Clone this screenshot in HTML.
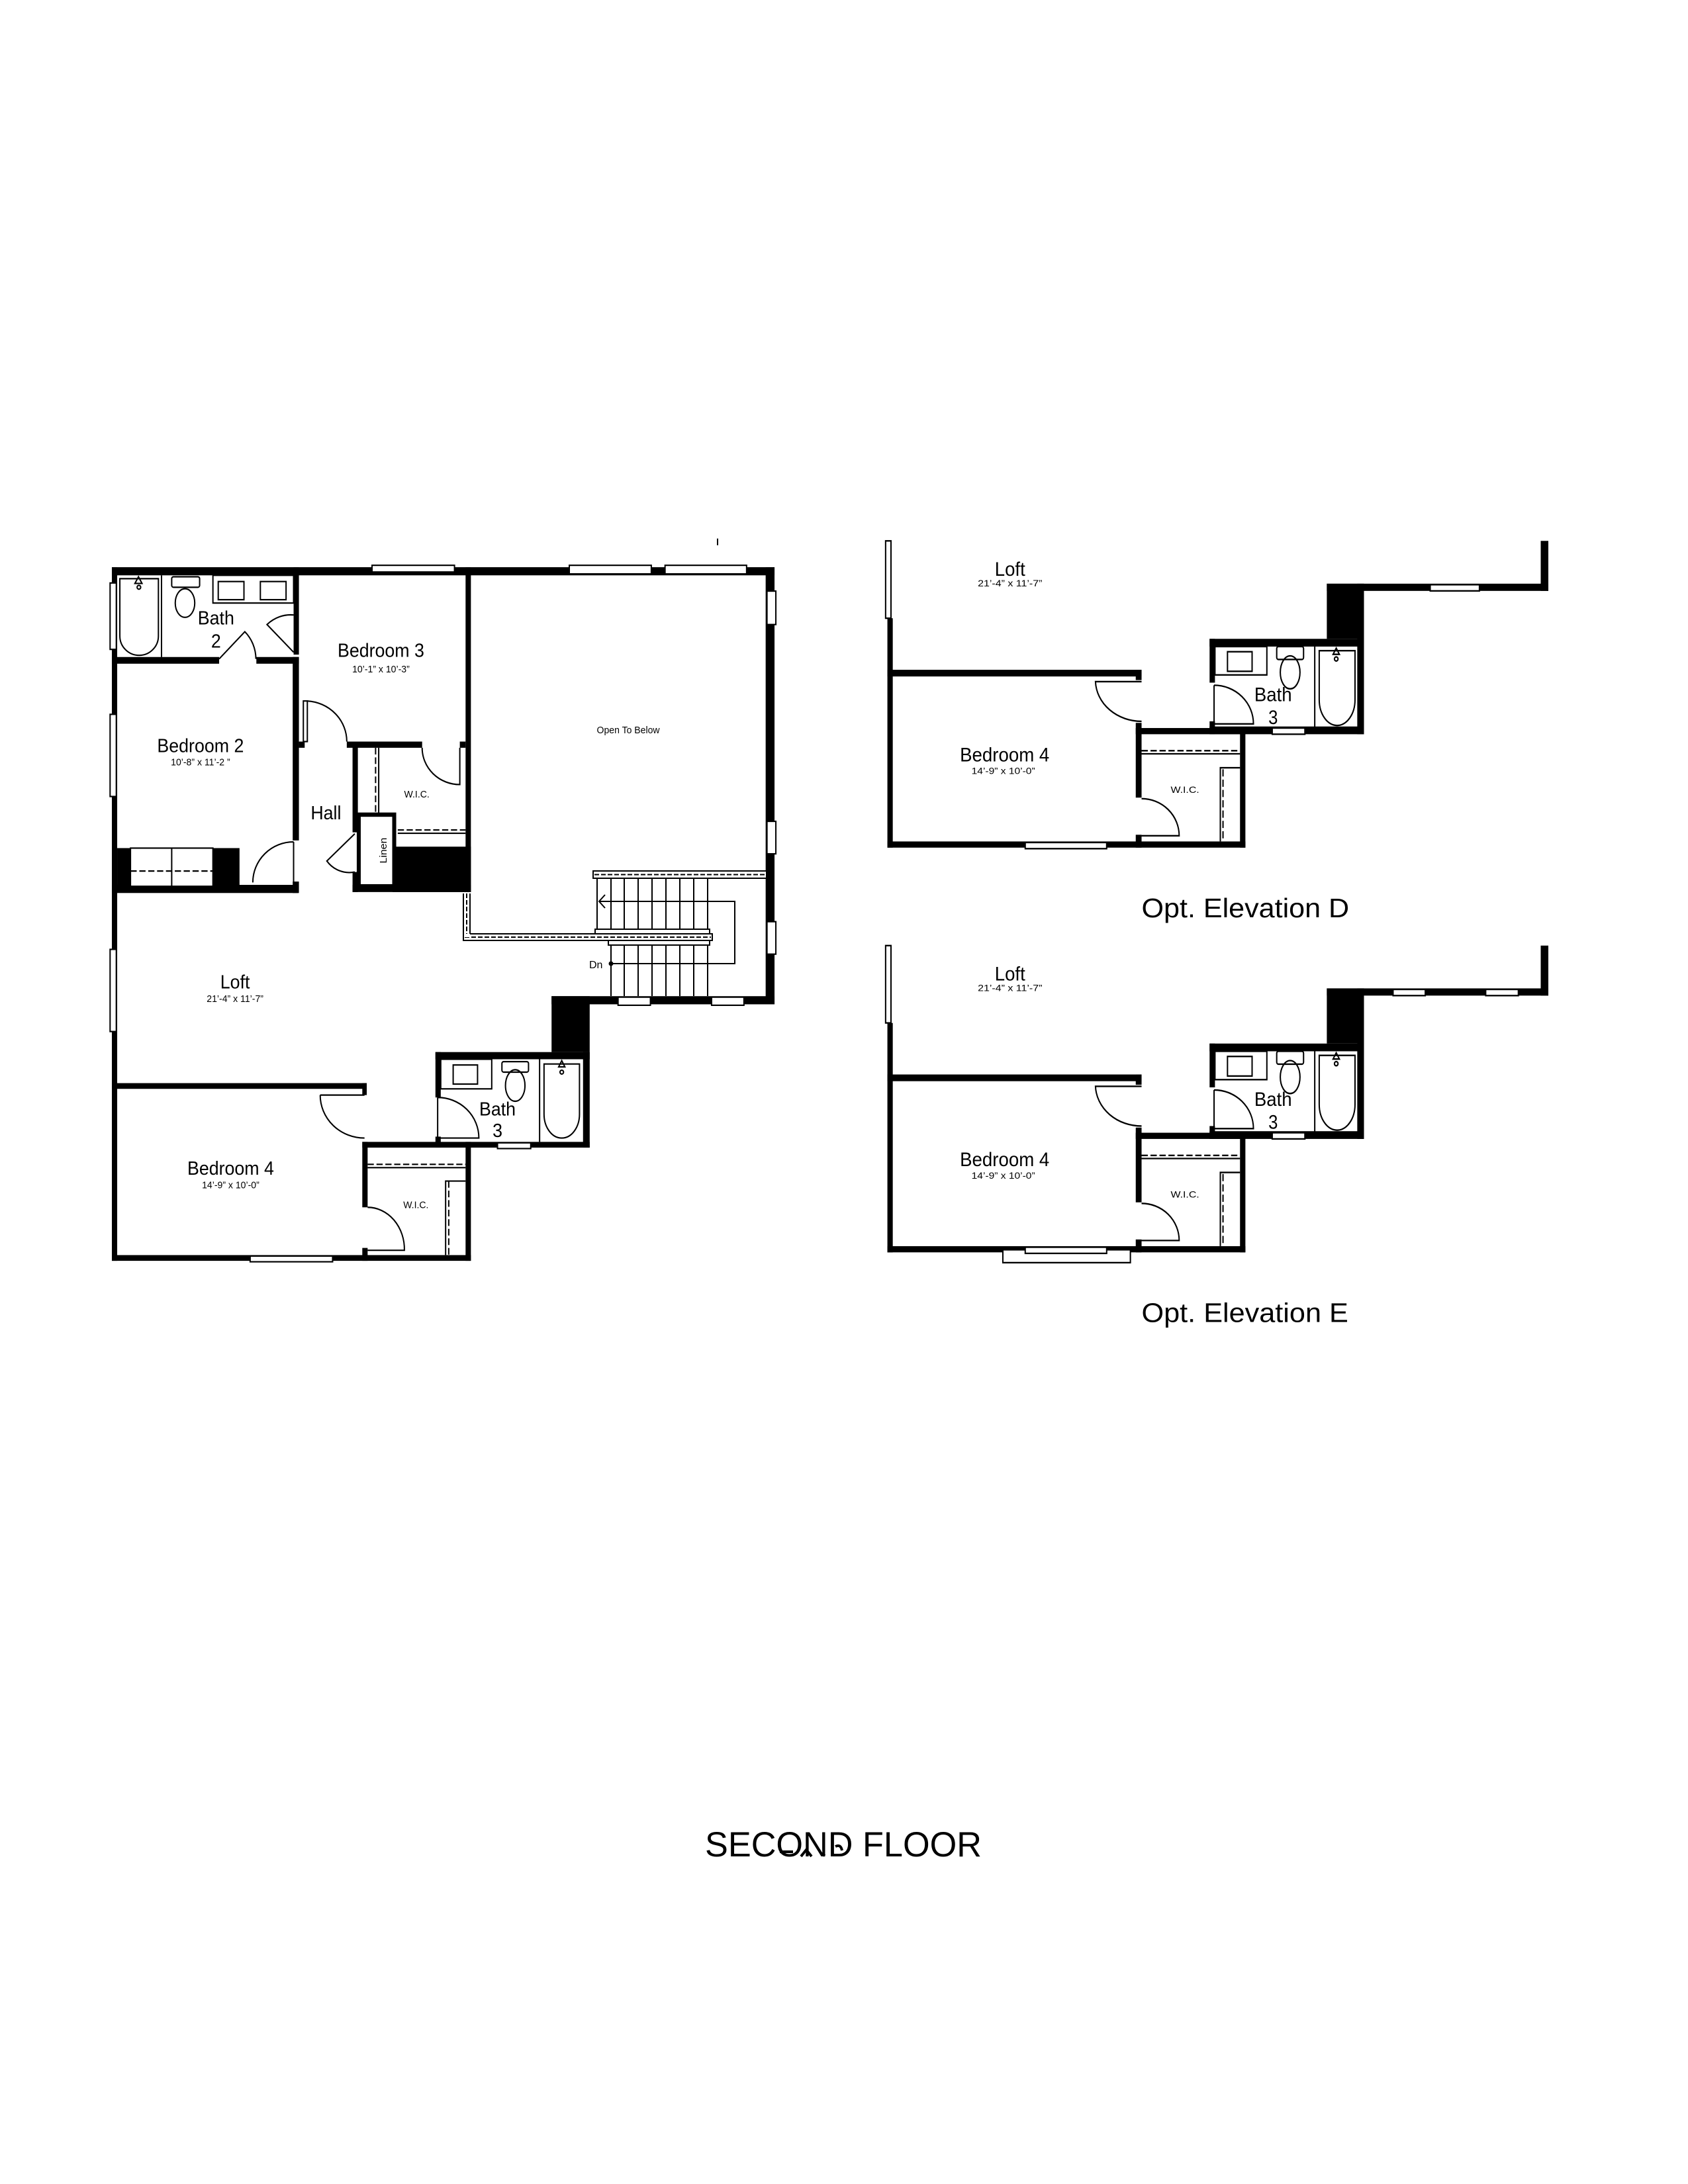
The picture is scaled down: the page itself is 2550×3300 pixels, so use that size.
<!DOCTYPE html>
<html><head><meta charset="utf-8"><style>
html,body{margin:0;padding:0;background:#fff}
svg{display:block}
text{font-family:"Liberation Sans",Arial,sans-serif;fill:#000}
</style></head><body>
<svg width="2550" height="3300" viewBox="0 0 2550 3300" xmlns="http://www.w3.org/2000/svg">
<rect width="2550" height="3300" fill="#fff"/>

<!-- MAIN PLAN (zoom1 units) -->
<g transform="matrix(0.6696,0,0,0.7218,148.9,799.3)">
 <g fill="#000">
  <rect x="1395" y="20" width="3" height="14"/>
  <rect x="30" y="80" width="1495" height="17"/>
  <rect x="30" y="80" width="12" height="1452"/>
  <rect x="1505" y="80" width="20" height="915"/>
  <rect x="1022" y="978" width="503" height="17"/>
  <rect x="1022" y="978" width="86" height="117"/>
  <rect x="760" y="1095" width="348" height="15"/>
  <rect x="1093" y="1095" width="15" height="200"/>
  <rect x="595" y="1283" width="513" height="12"/>
  <rect x="760" y="1095" width="12" height="95"/>
  <rect x="760" y="1272" width="12" height="23"/>
  <rect x="30" y="1160" width="575" height="12"/>
  <rect x="595" y="1160" width="10" height="25"/>
  <rect x="595" y="1283" width="12" height="137"/>
  <rect x="595" y="1505" width="12" height="27"/>
  <rect x="828" y="1283" width="12" height="249"/>
  <rect x="30" y="1520" width="810" height="12"/>
  <rect x="30" y="268" width="242" height="14"/>
  <rect x="356" y="268" width="96" height="14"/>
  <rect x="440" y="80" width="12" height="183"/>
  <rect x="438" y="268" width="14" height="384"/>
  <rect x="438" y="738" width="14" height="24"/>
  <rect x="30" y="745" width="420" height="17"/>
  <rect x="42" y="668" width="30" height="80"/>
  <rect x="258" y="668" width="60" height="80"/>
  <rect x="452" y="445" width="13" height="13"/>
  <rect x="560" y="445" width="170" height="13"/>
  <rect x="815" y="445" width="13" height="13"/>
  <rect x="828" y="80" width="12" height="680"/>
  <rect x="573" y="455" width="12" height="180"/>
  <rect x="573" y="718" width="12" height="42"/>
  <rect x="663" y="665" width="177" height="95"/>
  <rect x="573" y="745" width="267" height="15"/>
 </g>
 <g fill="#fff" stroke="#000" stroke-width="3">
  <rect x="617" y="76" width="186" height="14"/>
  <rect x="1062" y="76" width="185" height="18"/>
  <rect x="1278" y="76" width="184" height="18"/>
  <rect x="26" y="113" width="14" height="139"/>
  <rect x="26" y="388" width="14" height="172"/>
  <rect x="26" y="880" width="14" height="172"/>
  <rect x="1508" y="130" width="20" height="70"/>
  <rect x="1508" y="612" width="20" height="68"/>
  <rect x="1508" y="822" width="20" height="68"/>
  <rect x="1172" y="980" width="73" height="17"/>
  <rect x="1383" y="980" width="73" height="17"/>
  <rect x="900" y="1285" width="75" height="12"/>
  <rect x="342" y="1522" width="186" height="12"/>
  <rect x="72" y="668" width="186" height="80"/>
  <rect x="587" y="598" width="80" height="150" stroke-width="9"/>
  <rect x="462" y="360" width="9" height="85"/>
 </g>
 <g fill="none" stroke="#000" stroke-width="3">
  <line x1="165" y1="668" x2="165" y2="748"/>
  <line x1="72" y1="716" x2="258" y2="716" stroke-dasharray="14 6"/>
  <line x1="142" y1="97" x2="142" y2="268"/>
  <path d="M48 104 h87 v120 a43 40 0 0 1 -87 0 z"/>
  <path d="M90 100 l-8 14 h16 z"/>
  <circle cx="91" cy="122" r="4"/>
  <rect x="165" y="100" width="63" height="22" rx="4"/>
  <ellipse cx="195" cy="155" rx="22" ry="30"/>
  <rect x="258" y="97" width="182" height="58"/>
  <rect x="270" y="110" width="58" height="38"/>
  <rect x="365" y="110" width="58" height="38"/>
  <path d="M272 272 L330 215 A80 80 0 0 1 355 272"/>
  <path d="M440 258 L380 200 A80 80 0 0 1 440 180"/>
  <path d="M471 360 A95 85 0 0 1 560 445"/>
  <path d="M815 458 V535 A85 77 0 0 1 730 458"/>
  <path d="M440 655 V740 M440 655 A92 85 0 0 0 348 740"/>
  <path d="M578 638 L515 695 A63 60 0 0 0 578 718"/>
  <line x1="625" y1="458" x2="625" y2="595" stroke-dasharray="14 6"/>
  <line x1="632" y1="458" x2="632" y2="595"/>
  <line x1="675" y1="630" x2="828" y2="630" stroke-dasharray="14 6"/>
  <line x1="675" y1="637" x2="828" y2="637"/>
  <rect x="772" y="1110" width="115" height="62"/>
  <rect x="800" y="1122" width="55" height="40"/>
  <rect x="910" y="1115" width="60" height="22" rx="4"/>
  <ellipse cx="940" cy="1165" rx="22" ry="33"/>
  <line x1="995" y1="1110" x2="995" y2="1283"/>
  <path d="M1005 1120 h80 v105 a40 50 0 0 1 -80 0 z"/>
  <path d="M1045 1113 l-7 13 h14 z"/>
  <circle cx="1045" cy="1137" r="4"/>
  <path d="M765 1190 V1275 H858 A93 85 0 0 0 765 1190"/>
  <path d="M500 1185 H600 M500 1185 A100 90 0 0 0 600 1275"/>
  <path d="M607 1510 H690 A83 88 0 0 0 607 1420"/>
  <line x1="607" y1="1330" x2="828" y2="1330" stroke-dasharray="14 6"/>
  <line x1="607" y1="1337" x2="828" y2="1337"/>
  <line x1="790" y1="1365" x2="790" y2="1520" stroke-dasharray="14 6"/>
  <path d="M783 1520 V1365 H828"/>
 </g>
 <g font-size="40" text-anchor="middle">
  <text x="265" y="200">Bath</text>
  <text x="265" y="248">2</text>
  <text x="637" y="268">Bedroom 3</text>
  <text x="637" y="300" font-size="21">10’-1” x 10’-3”</text>
  <text x="230" y="467">Bedroom 2</text>
  <text x="230" y="495" font-size="21">10’-8” x 11’-2 ”</text>
  <text x="1195" y="428" font-size="21">Open To Below</text>
  <text x="513" y="608">Hall</text>
  <text x="718" y="562" font-size="21">W.I.C.</text>
  <text x="308" y="962">Loft</text>
  <text x="308" y="990" font-size="21">21’-4” x 11’-7”</text>
  <text x="900" y="1228">Bath</text>
  <text x="900" y="1273">3</text>
  <text x="298" y="1352">Bedroom 4</text>
  <text x="298" y="1380" font-size="21">14’-9” x 10’-0”</text>
  <text x="716" y="1422" font-size="21">W.I.C.</text>
  <text font-size="22" transform="translate(650,673) rotate(-90)">Linen</text>
 </g>
</g>

<!-- STAIRS -->
<g fill="none" stroke="#000" stroke-width="2">
 <rect x="896" y="1316" width="262" height="11" fill="#fff"/>
 <line x1="898" y1="1321.5" x2="1158" y2="1321.5" stroke-dasharray="7 3"/>
 <line x1="902" y1="1327" x2="902" y2="1405"/>
 <line x1="923" y1="1327" x2="923" y2="1505"/>
 <line x1="943" y1="1327" x2="943" y2="1505"/>
 <line x1="964" y1="1327" x2="964" y2="1505"/>
 <line x1="985" y1="1327" x2="985" y2="1505"/>
 <line x1="1006" y1="1327" x2="1006" y2="1505"/>
 <line x1="1027" y1="1327" x2="1027" y2="1505"/>
 <line x1="1048" y1="1327" x2="1048" y2="1505"/>
 <line x1="1069" y1="1327" x2="1069" y2="1505"/>
 <rect x="899" y="1404" width="173" height="7" fill="#fff"/>
 <rect x="919" y="1421" width="153" height="7" fill="#fff"/>
 <rect x="700" y="1411" width="376" height="10" fill="#fff"/>
 <line x1="702" y1="1416" x2="1074" y2="1416" stroke-dasharray="7 3"/>
 <rect x="700" y="1349" width="10" height="67" fill="#fff" stroke="none"/>
 <path d="M700 1350 V1421 M710 1350 V1411"/>
 <line x1="705" y1="1350" x2="705" y2="1411" stroke-dasharray="7 3"/>
 <path d="M905 1362 H1110 V1456 H923"/>
 <path d="M914 1352 L905 1362 L914 1372"/>
 <circle cx="923" cy="1456" r="2.5" fill="#000"/>
</g>
<text x="890" y="1463" font-size="16">Dn</text>

<!-- ELEVATIONS (zoom2 units) -->
<g transform="matrix(0.676,0,0,0.779,1300,790)">
 <g id="elev">
  <g fill="#000">
   <rect x="60" y="185" width="12" height="445"/>
   <rect x="60" y="285" width="568" height="13"/>
   <rect x="615" y="285" width="13" height="20"/>
   <rect x="615" y="388" width="13" height="145"/>
   <rect x="615" y="605" width="13" height="25"/>
   <rect x="615" y="398" width="245" height="12"/>
   <rect x="848" y="398" width="12" height="232"/>
   <rect x="60" y="618" width="800" height="12"/>
   <rect x="780" y="225" width="345" height="15"/>
   <rect x="780" y="225" width="12" height="85"/>
   <rect x="780" y="385" width="12" height="25"/>
   <rect x="780" y="395" width="345" height="15"/>
   <rect x="1110" y="118" width="15" height="292"/>
   <rect x="1042" y="118" width="83" height="107"/>
   <rect x="1042" y="118" width="495" height="14"/>
   <rect x="1520" y="35" width="17" height="97"/>
  </g>
  <g fill="#fff" stroke="#000" stroke-width="3">
   <rect x="56" y="35" width="12" height="150"/>
   <rect x="920" y="398" width="73" height="12"/>
  </g>
  <g fill="none" stroke="#000" stroke-width="3">
   <path d="M628 308 H525 A103 80 0 0 0 628 385"/>
   <path d="M628 607 H712 A84 72 0 0 0 628 535"/>
   <line x1="628" y1="442" x2="848" y2="442" stroke-dasharray="14 6"/>
   <line x1="628" y1="448" x2="848" y2="448"/>
   <line x1="810" y1="478" x2="810" y2="618" stroke-dasharray="14 6"/>
   <path d="M804 618 V475 H848"/>
   <rect x="792" y="240" width="116" height="55"/>
   <rect x="820" y="250" width="55" height="38"/>
   <rect x="930" y="240" width="60" height="25" rx="4"/>
   <ellipse cx="960" cy="290" rx="22" ry="32"/>
   <line x1="1015" y1="240" x2="1015" y2="398"/>
   <path d="M1025 248 h80 v95 a40 50 0 0 1 -80 0 z"/>
   <path d="M1063 243 l-7 12 h14 z"/>
   <circle cx="1063" cy="264" r="4"/>
   <path d="M790 315 V390 H878 A88 75 0 0 0 790 315"/>
  </g>
  <g font-size="38">
   <text x="300" y="103" textLength="68" lengthAdjust="spacingAndGlyphs">Loft</text>
   <text x="262" y="123" font-size="18" textLength="144" lengthAdjust="spacingAndGlyphs">21’-4” x 11’-7”</text>
   <text x="880" y="346" textLength="84" lengthAdjust="spacingAndGlyphs">Bath</text>
   <text x="922" y="390" text-anchor="middle">3</text>
   <text x="222" y="463" textLength="200" lengthAdjust="spacingAndGlyphs">Bedroom 4</text>
   <text x="248" y="487" font-size="18" textLength="142" lengthAdjust="spacingAndGlyphs">14’-9” x 10’-0”</text>
   <text x="693" y="524" font-size="18" textLength="64" lengthAdjust="spacingAndGlyphs">W.I.C.</text>
  </g>
 </g>
 <g fill="#fff" stroke="#000" stroke-width="3">
  <rect x="1273" y="120" width="110" height="12"/>
  <rect x="368" y="620" width="182" height="12"/>
 </g>
 <text x="628" y="765" font-size="52" textLength="464" lengthAdjust="spacingAndGlyphs">Opt. Elevation D</text>

 <use href="#elev" transform="translate(0,785)"/>
 <g fill="#fff" stroke="#000" stroke-width="3">
  <rect x="1190" y="905" width="72" height="12"/>
  <rect x="1397" y="905" width="73" height="12"/>
  <rect x="318" y="1410" width="285" height="25"/>
  <rect x="368" y="1405" width="182" height="12"/>
 </g>
 <text x="628" y="1550" font-size="52" textLength="462" lengthAdjust="spacingAndGlyphs">Opt. Elevation E</text>
</g>

<text x="1065" y="2805" font-size="53" textLength="418" lengthAdjust="spacingAndGlyphs">SECOND FLOOR</text>
<path d="M1178 2798 h20 M1210 2805 l8 -10 l8 10 M1240 2800 l6 4 M1262 2790 q8 -4 10 6" fill="none" stroke="#000" stroke-width="4"/>
</svg>
</body></html>
